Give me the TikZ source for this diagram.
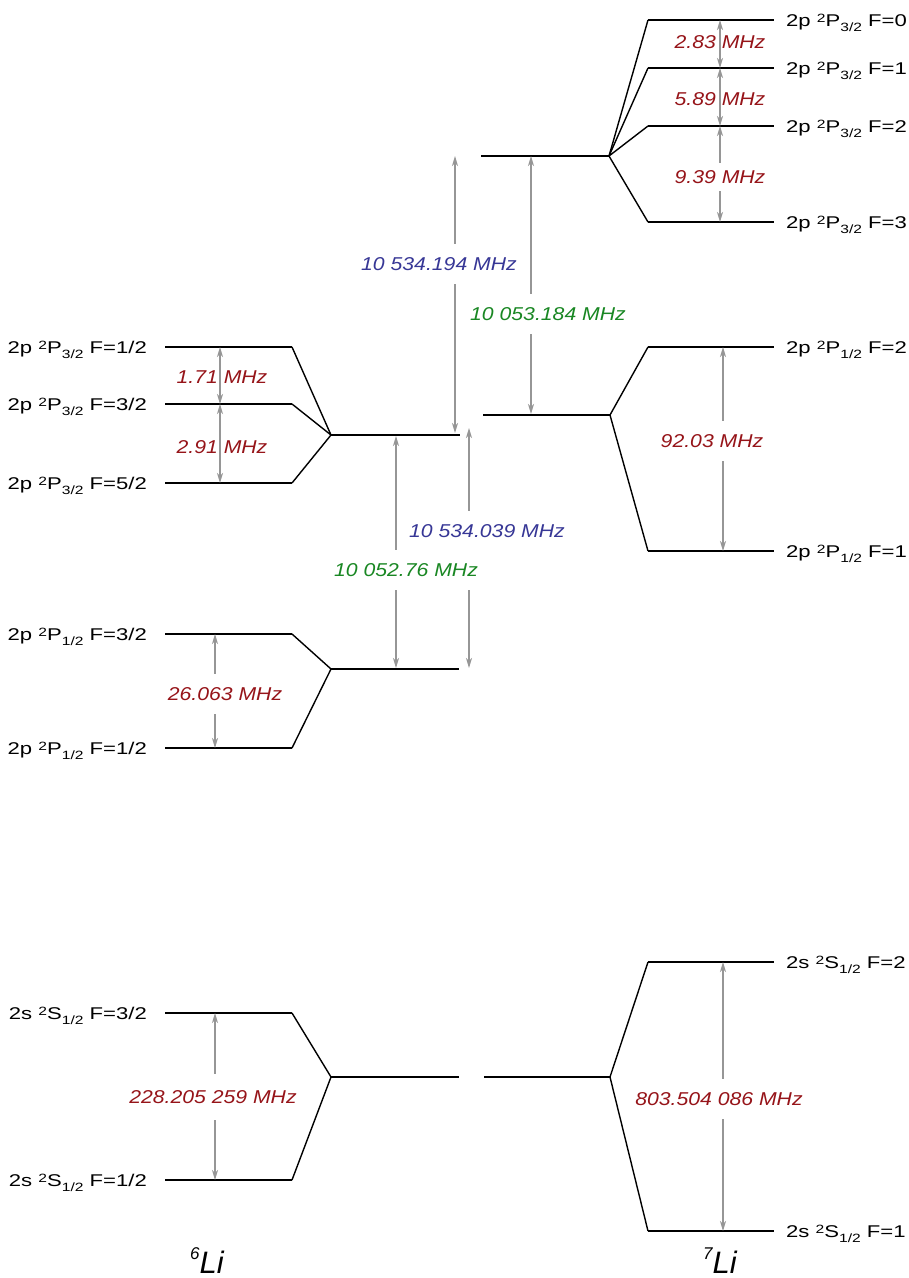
\documentclass[tikz,border=0pt]{standalone}
\usepackage{fontspec}
\setmainfont{Liberation Sans}
\newfontfamily\labfont[FakeStretch=1.3]{Liberation Sans}
\newfontfamily\valfont[FakeStretch=1.14]{Liberation Sans}
\usetikzlibrary{arrows.meta}
\definecolor{valred}{RGB}{150,20,25}
\definecolor{valblue}{RGB}{55,55,150}
\definecolor{valgreen}{RGB}{25,135,35}
\definecolor{arrgray}{RGB}{150,150,150}
\newcommand{\st}[4]{#1 {\fontsize{12}{12}\selectfont\raisebox{3.8pt}{2}}#2{\fontsize{12}{12}\selectfont\raisebox{-5pt}{#3}} #4}
\tikzset{
  level/.style={line width=2.4pt},
  fan/.style={line width=1.4pt},
  arr/.style={draw=arrgray, line width=1.2pt,
    {Stealth[length=10pt,width=6pt,inset=3pt]}-{Stealth[length=10pt,width=6pt,inset=3pt]}},
  val/.style={font=\valfont\itshape\fontsize{18.6}{20}\selectfont, inner sep=0pt},
  valbox/.style={val, fill=white, minimum height=40pt},
  lab/.style={font=\labfont\fontsize{17}{20}\selectfont, inner sep=0pt},
  llab/.style={lab, anchor=base east},
  rlab/.style={lab, anchor=base west}
}
\begin{document}
\begin{tikzpicture}[x=1pt,y=-1pt]
\useasboundingbox[fill=white] (0,0) rectangle (909,1278);

% ---------- 6Li levels ----------
% P3/2
\coordinate (a1) at (165,347); \coordinate (a1e) at (292,347);
\coordinate (a2) at (165,404); \coordinate (a2e) at (292,404);
\coordinate (a3) at (165,483); \coordinate (a3e) at (292,483);
\coordinate (ac) at (331,435); \coordinate (ace) at (460,435);
\draw[level] (a1) -- (a1e); \draw[level] (a2) -- (a2e); \draw[level] (a3) -- (a3e);
\draw[level] (ac) -- (ace);
\draw[fan] (a1e) -- (ac); \draw[fan] (a2e) -- (ac); \draw[fan] (a3e) -- (ac);
% P1/2
\coordinate (b1) at (165,634); \coordinate (b1e) at (292,634);
\coordinate (b2) at (165,748); \coordinate (b2e) at (292,748);
\coordinate (bc) at (331,669); \coordinate (bce) at (459,669);
\draw[level] (b1) -- (b1e); \draw[level] (b2) -- (b2e); \draw[level] (bc) -- (bce);
\draw[fan] (b1e) -- (bc); \draw[fan] (b2e) -- (bc);
% S1/2
\coordinate (c1) at (165,1013); \coordinate (c1e) at (292,1013);
\coordinate (c2) at (165,1180); \coordinate (c2e) at (292,1180);
\coordinate (cc) at (331,1077); \coordinate (cce) at (459,1077);
\draw[level] (c1) -- (c1e); \draw[level] (c2) -- (c2e); \draw[level] (cc) -- (cce);
\draw[fan] (c1e) -- (cc); \draw[fan] (c2e) -- (cc);

% ---------- 7Li levels ----------
% P3/2
\coordinate (dc) at (481,156); \coordinate (dce) at (609,156);
\coordinate (d0) at (648,20);  \coordinate (d0e) at (774,20);
\coordinate (d1) at (648,68);  \coordinate (d1e) at (774,68);
\coordinate (d2) at (648,126); \coordinate (d2e) at (774,126);
\coordinate (d3) at (648,222); \coordinate (d3e) at (774,222);
\draw[level] (dc) -- (dce);
\draw[level] (d0) -- (d0e); \draw[level] (d1) -- (d1e);
\draw[level] (d2) -- (d2e); \draw[level] (d3) -- (d3e);
\draw[fan] (dce) -- (d0); \draw[fan] (dce) -- (d1); \draw[fan] (dce) -- (d2); \draw[fan] (dce) -- (d3);
% P1/2
\coordinate (ec) at (483,415); \coordinate (ece) at (610,415);
\coordinate (e2) at (648,347); \coordinate (e2e) at (774,347);
\coordinate (e1) at (648,551); \coordinate (e1e) at (774,551);
\draw[level] (ec) -- (ece); \draw[level] (e2) -- (e2e); \draw[level] (e1) -- (e1e);
\draw[fan] (ece) -- (e2); \draw[fan] (ece) -- (e1);
% S1/2
\coordinate (fc) at (484,1077); \coordinate (fce) at (610,1077);
\coordinate (f2) at (648,962);  \coordinate (f2e) at (774,962);
\coordinate (f1) at (648,1231); \coordinate (f1e) at (774,1231);
\draw[level] (fc) -- (fce); \draw[level] (f2) -- (f2e); \draw[level] (f1) -- (f1e);
\draw[fan] (fce) -- (f2); \draw[fan] (fce) -- (f1);

% ---------- level labels ----------
\node[llab] (la1) at (147,353.5) {\st{2p}{P}{3/2}{F=1/2}};
\node[llab] (la2) at (147,410.5) {\st{2p}{P}{3/2}{F=3/2}};
\node[llab] (la3) at (147,489.5) {\st{2p}{P}{3/2}{F=5/2}};
\node[llab] (lb1) at (147,640.5) {\st{2p}{P}{1/2}{F=3/2}};
\node[llab] (lb2) at (147,754.5) {\st{2p}{P}{1/2}{F=1/2}};
\node[llab] (lc1) at (147,1019.5) {\st{2s}{S}{1/2}{F=3/2}};
\node[llab] (lc2) at (147,1186.5) {\st{2s}{S}{1/2}{F=1/2}};
\node[rlab] (ld0) at (786,26.5) {\st{2p}{P}{3/2}{F=0}};
\node[rlab] (ld1) at (786,74.5) {\st{2p}{P}{3/2}{F=1}};
\node[rlab] (ld2) at (786,132.5) {\st{2p}{P}{3/2}{F=2}};
\node[rlab] (ld3) at (786,228.5) {\st{2p}{P}{3/2}{F=3}};
\node[rlab] (le2) at (786,353.5) {\st{2p}{P}{1/2}{F=2}};
\node[rlab] (le1) at (786,557.5) {\st{2p}{P}{1/2}{F=1}};
\node[rlab] (lf2) at (786,968.5) {\st{2s}{S}{1/2}{F=2}};
\node[rlab] (lf1) at (786,1237.5) {\st{2s}{S}{1/2}{F=1}};

% ---------- hyperfine arrows ----------
\draw[arr] (720,20) -- (720,68);
\draw[arr] (720,68) -- (720,126);
\draw[arr] (720,126) -- (720,222);
\node[val, text=valred] (v1) at (720,42) {2.83 MHz};
\node[val, text=valred] (v2) at (720,99) {5.89 MHz};
\node[val, text=valred, fill=white, minimum height=28pt] (v3) at (720,177) {9.39 MHz};

\draw[arr] (220,347) -- (220,404);
\draw[arr] (220,404) -- (220,483);
\node[val, text=valred] (v4) at (222,377) {1.71 MHz};
\node[val, text=valred] (v5) at (222,447) {2.91 MHz};

\draw[arr] (215,634) -- (215,748);
\node[valbox, text=valred] (v6) at (225,694) {26.063 MHz};

\draw[arr] (215,1013) -- (215,1180);
\node[valbox, text=valred, minimum height=46pt] (v7) at (213,1097) {228.205 259 MHz};

\draw[arr] (723,347) -- (723,551);
\node[valbox, text=valred] (v8) at (712,441) {92.03 MHz};

\draw[arr] (723,962) -- (723,1231);
\node[valbox, text=valred] (v9) at (719,1099) {803.504 086 MHz};

% ---------- fine-structure / isotope arrows ----------
\draw[arr] (455,156) -- (455,433);
\node[valbox, text=valblue] (w1) at (439,264) {10 534.194 MHz};

\draw[arr] (531,156) -- (531,414);
\node[valbox, text=valgreen] (w2) at (548,314) {10 053.184 MHz};

\draw[arr] (396,436) -- (396,668);
\draw[arr] (469,428) -- (469,668);
\node[valbox, text=valblue] (w3) at (487,531) {10 534.039 MHz};
\node[valbox, text=valgreen] (w4) at (406,570) {10 052.76 MHz};

% ---------- isotope names ----------
\node[anchor=base west, inner sep=0pt] (li6) at (190,1273)
  {{\fontsize{17}{17}\selectfont\itshape\raisebox{14pt}{6}}{\fontsize{31}{31}\selectfont\itshape Li}};
\node[anchor=base west, inner sep=0pt] (li7) at (703,1273)
  {{\fontsize{17}{17}\selectfont\itshape\raisebox{14pt}{7}}{\fontsize{31}{31}\selectfont\itshape Li}};
\end{tikzpicture}
\end{document}
